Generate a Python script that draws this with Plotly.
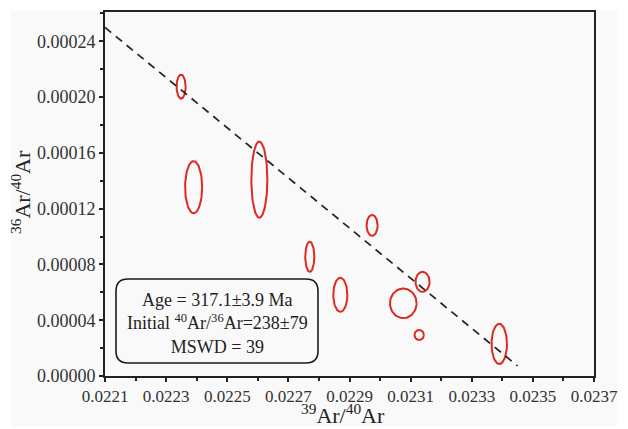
import numpy as np
import plotly.graph_objects as go

# ---- data ----
x_39_40 = [0.022349, 0.022390, 0.022605, 0.022770, 0.022974, 0.022870, 0.023076, 0.023139, 0.023128, 0.023390]
y_36_40 = [0.0002075, 0.0001354, 0.0001408, 0.0000855, 0.0001080, 0.0000582, 0.0000521, 0.0000675, 0.0000294, 0.0000230]
sx_39_40 = [0.0000148, 0.0000279, 0.0000262, 0.0000148, 0.0000180, 0.0000230, 0.0000436, 0.0000230, 0.0000154, 0.0000252]
sy_36_40 = [0.0000086, 0.0000187, 0.0000273, 0.0000108, 0.0000075, 0.0000122, 0.0000106, 0.0000072, 0.0000036, 0.0000144]

# isochron fit line end points
fit_x = [0.0221, 0.02345]
fit_y = [0.0002499, 0.0000072]

x_ticks = [0.0221, 0.0223, 0.0225, 0.0227, 0.0229, 0.0231, 0.0233, 0.0235, 0.0237]
y_ticks = [0.0, 0.00004, 0.00008, 0.00012, 0.00016, 0.00020, 0.00024]

x_title = "<sup>39</sup>Ar/<sup>40</sup>Ar"
y_title = "<sup>36</sup>Ar/<sup>40</sup>Ar"
box_lines = ["Age = 317.1±3.9 Ma",
             "Initial <sup>40</sup>Ar/<sup>36</sup>Ar=238±79",
             "MSWD = 39"]

FONT = "Liberation Serif, Times New Roman, serif"
RED = "#dc2a20"

fig = go.Figure()

# error ellipses
t = np.linspace(0, 2 * np.pi, 90)
for cx, cy, sx, sy in zip(x_39_40, y_36_40, sx_39_40, sy_36_40):
    fig.add_trace(go.Scatter(x=cx + sx * np.cos(t), y=cy + sy * np.sin(t),
                             mode="lines", line=dict(color=RED, width=2),
                             hoverinfo="skip", showlegend=False))

# isochron line
fig.add_trace(go.Scatter(x=fit_x, y=fit_y, mode="lines",
                         line=dict(color="#222222", width=1.7, dash="8px,6px"),
                         showlegend=False, hoverinfo="skip"))

W, H = 628, 429
ml, mr, mt, mb = 105, 34, 12, 53
pw, ph = W - ml - mr, H - mt - mb

def px2paper(px, py):
    return (px - ml) / pw, (H - mb - py) / ph

# light grey image background
gx0, gy0 = px2paper(11, 427)
gx1, gy1 = px2paper(617, 11)
fig.add_shape(type="rect", xref="paper", yref="paper", x0=gx0, y0=gy0, x1=gx1, y1=gy1,
              line=dict(width=0), fillcolor="#f9f9f9", layer="below")

# rounded text box
bx0, by0 = px2paper(116, 363)
bx1, by1 = px2paper(318, 279)
rx, ry = 12 / pw, 12 / ph
path = (f"M {bx0+rx},{by1} L {bx1-rx},{by1} Q {bx1},{by1} {bx1},{by1-ry} "
        f"L {bx1},{by0+ry} Q {bx1},{by0} {bx1-rx},{by0} "
        f"L {bx0+rx},{by0} Q {bx0},{by0} {bx0},{by0+ry} "
        f"L {bx0},{by1-ry} Q {bx0},{by1} {bx0+rx},{by1} Z")
fig.add_shape(type="path", path=path, xref="paper", yref="paper",
              line=dict(color="#1a1a1a", width=1.6), fillcolor="rgba(0,0,0,0)")

tx, ty = px2paper(217, 323)
fig.add_annotation(x=tx, y=ty, xref="paper", yref="paper", text="<br>".join(box_lines),
                   showarrow=False, align="center", xanchor="center", yanchor="middle",
                   font=dict(family=FONT, size=18, color="#222222"))

# axis titles
ax_x, ax_y = px2paper(343, 414)
fig.add_annotation(x=ax_x, y=ax_y, xref="paper", yref="paper", text=x_title, showarrow=False,
                   xanchor="center", yanchor="middle", font=dict(family=FONT, size=22, color="#222222"))
ay_x, ay_y = px2paper(21, 192)
fig.add_annotation(x=ay_x, y=ay_y, xref="paper", yref="paper", text=y_title, showarrow=False,
                   textangle=-90, xanchor="center", yanchor="middle",
                   font=dict(family=FONT, size=22, color="#222222"))

axis_common = dict(showgrid=False, zeroline=False, showline=True, linecolor="#222222",
                   linewidth=2, mirror=True, ticks="outside", ticklen=4, tickwidth=1.5,
                   tickcolor="#222222", automargin=False)

fig.update_xaxes(range=[0.0221, 0.0237], tickvals=x_ticks, tickformat=".4f",
                 tickfont=dict(family=FONT, size=17, color="#333333"),
                 minor=dict(dtick=0.0001, ticks="outside", ticklen=3, tickwidth=1.5, tickcolor="#222222"),
                 **axis_common)
fig.update_yaxes(range=[0, 0.000261], tickvals=y_ticks, tickformat=".5f",
                 tickfont=dict(family=FONT, size=18, color="#333333"),
                 minor=dict(dtick=0.00002, ticks="outside", ticklen=3, tickwidth=1.5, tickcolor="#222222"),
                 **axis_common)

fig.update_layout(width=W, height=H, margin=dict(l=ml, r=mr, t=mt, b=mb, autoexpand=False),
                  paper_bgcolor="white", plot_bgcolor="#fbfbfb", showlegend=False)

fig.write_html("out.html", config={"displayModeBar": False})

# remove the browser's default 8px body margin so the figure sits at the page origin
with open("out.html", "r", encoding="utf-8") as f:
    html = f.read()
html = html.replace("<head>", "<head><style>html,body{margin:0;padding:0;overflow:hidden;}</style>", 1)
with open("out.html", "w", encoding="utf-8") as f:
    f.write(html)
